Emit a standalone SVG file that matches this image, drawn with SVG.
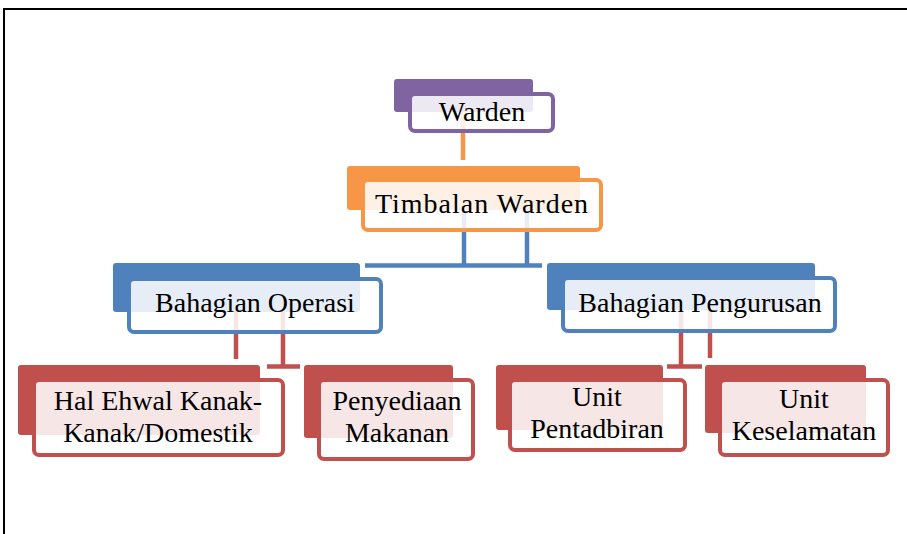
<svg xmlns="http://www.w3.org/2000/svg" width="907" height="534" viewBox="0 0 907 534">
<style>
text{font-family:'Liberation Serif','DejaVu Serif',serif;font-size:28px;fill:#000;text-anchor:middle}
.bk{stroke:none}
.fr{fill:#fff;fill-opacity:0.86;stroke-width:4}
.p .bk{fill:#8064A2}.p .fr{stroke:#8064A2}
.o .bk{fill:#F79646}.o .fr{stroke:#F79646}
.b .bk{fill:#4F81BD}.b .fr{stroke:#4F81BD}
.r .bk{fill:#C0504D}.r .fr{stroke:#C0504D}
.c{fill:none;stroke-width:4.5}
</style>
<rect x="0" y="0" width="907" height="534" fill="#fff"/>
<rect x="4" y="9" width="960" height="600" fill="none" stroke="#000" stroke-width="2"/>
<g id="connectors">
<line class="c" x1="463" y1="110" x2="463" y2="160" stroke="#F79646"/>
<g stroke="#4F81BD">
<line class="c" x1="464" y1="205" x2="464" y2="267"/>
<line class="c" x1="527" y1="205" x2="527" y2="267"/>
<line class="c" x1="365" y1="265.5" x2="542" y2="265.5"/>
</g>
<g stroke="#C0504D">
<line class="c" x1="236" y1="305" x2="236" y2="359"/>
<line class="c" x1="283" y1="305" x2="283" y2="366"/>
<line class="c" x1="267" y1="366.5" x2="300" y2="366.5" stroke-width="5"/>
<line class="c" x1="681" y1="305" x2="681" y2="366"/>
<line class="c" x1="667" y1="366.5" x2="702" y2="366.5" stroke-width="5"/>
<line class="c" x1="710" y1="305" x2="710" y2="358"/>
</g>
</g>
<g id="warden" class="p">
<rect class="bk" x="394" y="79" width="139" height="33" rx="3"/>
<rect class="fr" x="410" y="94" width="143" height="37" rx="5"/>
<text x="482" y="121" font-family="Liberation Serif, serif">Warden</text>
</g>
<g id="timbalan" class="o">
<rect class="bk" x="347" y="166" width="233" height="44" rx="3"/>
<rect class="fr" x="363" y="180" width="238" height="50" rx="5"/>
<text x="482" y="213" font-family="Liberation Serif, serif" letter-spacing="1">Timbalan Warden</text>
</g>
<g id="operasi" class="b">
<rect class="bk" x="113" y="263" width="247" height="49" rx="3"/>
<rect class="fr" x="129" y="279" width="252" height="53" rx="5"/>
<text x="255" y="312" font-family="Liberation Serif, serif">Bahagian Operasi</text>
</g>
<g id="pengurusan" class="b">
<rect class="bk" x="547" y="263" width="268" height="47" rx="3"/>
<rect class="fr" x="563" y="278" width="272" height="53" rx="5"/>
<text x="700" y="312" font-family="Liberation Serif, serif">Bahagian Pengurusan</text>
</g>
<g id="halehwal" class="r">
<rect class="bk" x="18" y="365" width="242" height="70" rx="3"/>
<rect class="fr" x="34" y="380" width="249" height="75" rx="5"/>
<text x="158" y="410" font-family="Liberation Serif, serif">Hal Ehwal Kanak-</text>
<text x="158" y="442" font-family="Liberation Serif, serif">Kanak/Domestik</text>
</g>
<g id="penyediaan" class="r">
<rect class="bk" x="304" y="365" width="149" height="73" rx="3"/>
<rect class="fr" x="319" y="380" width="154" height="79" rx="5"/>
<text x="397" y="410" font-family="Liberation Serif, serif">Penyediaan</text>
<text x="397" y="442" font-family="Liberation Serif, serif">Makanan</text>
</g>
<g id="pentadbiran" class="r">
<rect class="bk" x="496" y="365" width="167" height="65" rx="3"/>
<rect class="fr" x="510" y="380" width="175" height="70" rx="5"/>
<text x="597" y="406" font-family="Liberation Serif, serif">Unit</text>
<text x="597" y="438" font-family="Liberation Serif, serif">Pentadbiran</text>
</g>
<g id="keselamatan" class="r">
<rect class="bk" x="705" y="365" width="161" height="68" rx="3"/>
<rect class="fr" x="720" y="380" width="168" height="75" rx="5"/>
<text x="804" y="408" font-family="Liberation Serif, serif">Unit</text>
<text x="804" y="440" font-family="Liberation Serif, serif">Keselamatan</text>
</g>
</svg>
